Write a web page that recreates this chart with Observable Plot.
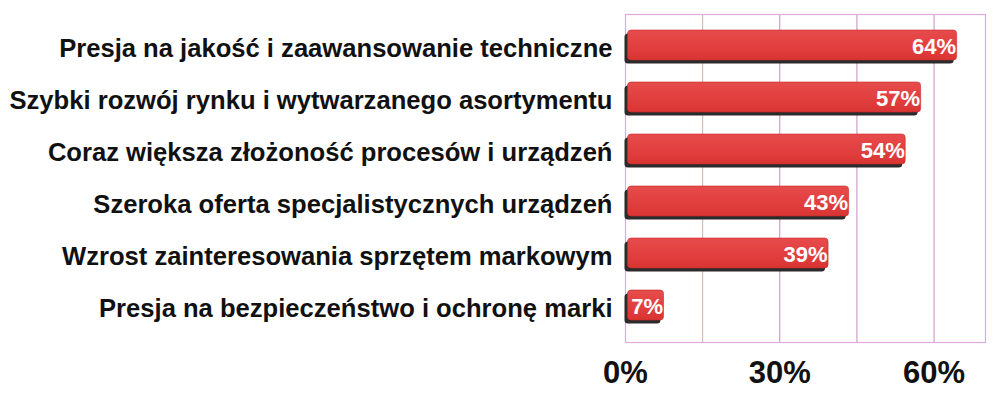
<!DOCTYPE html>
<html>
<head>
<meta charset="utf-8">
<script src="https://cdn.jsdelivr.net/npm/d3@7"></script>
<script src="https://cdn.jsdelivr.net/npm/@observablehq/plot@0.6"></script>
<style>
  html, body { margin: 0; padding: 0; background: #fff; }
</style>
</head>
<body>
<div id="chart"></div>
<script>
const categories = [
  "Presja na jakość i zaawansowanie techniczne",
  "Szybki rozwój rynku i wytwarzanego asortymentu",
  "Coraz większa złożoność procesów i urządzeń",
  "Szeroka oferta specjalistycznych urządzeń",
  "Wzrost zainteresowania sprzętem markowym",
  "Presja na bezpieczeństwo i ochronę marki"
];
const values = [64, 57, 54, 43, 39, 7];
const tickValues = [0, 30, 60];
const gridValues = [15, 30, 45, 60];

const data = categories.map((c, i) => ({category: c, value: values[i]}));

const chart = Plot.plot({
  width: 1000,
  height: 398,
  marginLeft: 625,
  marginRight: 15,
  marginTop: 14,
  marginBottom: 56,
  style: {fontFamily: "'Liberation Sans', Arial, sans-serif", fontWeight: "bold", color: "#111", background: "#fff"},
  x: {domain: [0, 70]},
  y: {domain: categories, range: [8, 342], padding: 0.42},
  marks: [
    Plot.ruleX(gridValues, {x: d => d, stroke: d => d === 15 ? "#c9b2a6" : "#c58ac4", strokeWidth: 1, strokeOpacity: 1}),
    Plot.frame({stroke: "#dcaadb", strokeWidth: 1.2}),
    Plot.barX(data, {y: "category", x: "value", fill: "#2b2b2b", rx: 3.5, dx: -0.5, dy: 3.5}),
    Plot.barX(data, {y: "category", x: "value", fill: "url(#barGrad)", stroke: "#c92a2a", strokeWidth: 0.6, rx: 3.5, dx: 2.5}),
    Plot.text(data, {y: "category", x: "value", text: d => d.value + "%", textAnchor: "end", fill: "#fff", fontSize: 22, fontWeight: "bold", dx: 1.5, dy: 1}),
    Plot.axisY({tickSize: 0, tickPadding: 13, fontSize: 25.6, fontWeight: "bold", dy: 3, label: null, fill: "#111"}),
    Plot.axisX(tickValues, {tickSize: 0, tickPadding: 18, fontSize: 31, fontWeight: "bold", tickFormat: d => d + "%", label: null, fill: "#111"})
  ]
});

// gradient definition for the bar faces
const svg = d3.select(chart);
const defs = svg.insert("defs", ":first-child");
const grad = defs.append("linearGradient").attr("id", "barGrad").attr("x1", 0).attr("y1", 0).attr("x2", 0).attr("y2", 1);
grad.append("stop").attr("offset", "0%").attr("stop-color", "#e64b4b");
grad.append("stop").attr("offset", "55%").attr("stop-color", "#e23f3f");
grad.append("stop").attr("offset", "100%").attr("stop-color", "#d93434");

document.getElementById("chart").appendChild(chart);
</script>
</body>
</html>
